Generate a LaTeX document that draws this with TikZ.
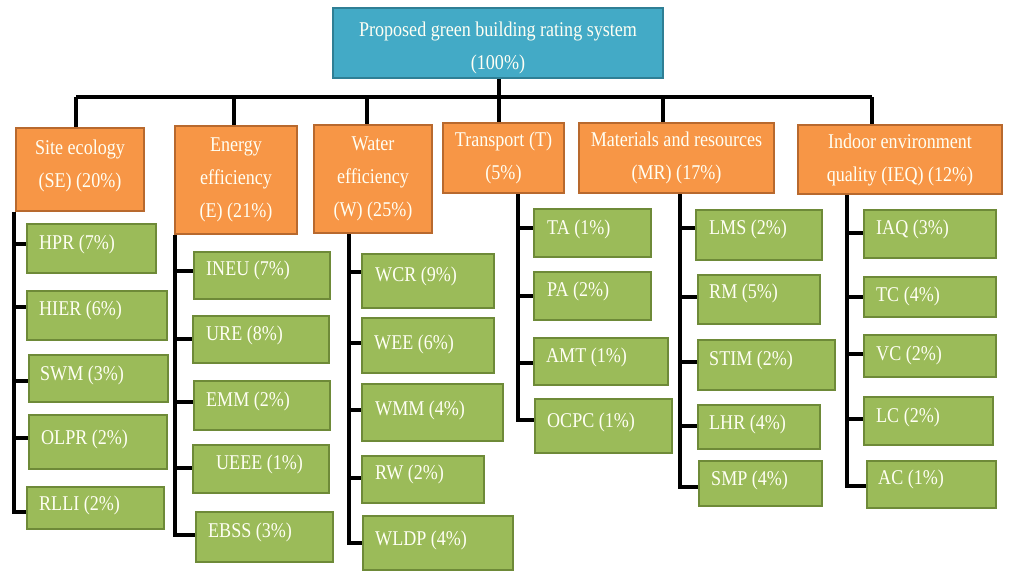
\documentclass[tikz,border=0pt]{standalone}
\usepackage{fontspec}
\setmainfont{Liberation Serif}[FakeStretch=0.86]
\definecolor{rootfill}{HTML}{43AAC6}
\definecolor{rootline}{HTML}{2F7F95}
\definecolor{ofill}{HTML}{F79646}
\definecolor{oline}{HTML}{B8692E}
\definecolor{gfill}{HTML}{9BBB59}
\definecolor{gline}{HTML}{6E8A38}
\definecolor{txt}{HTML}{FFFFF4}
\tikzset{
  rootbox/.style={draw=rootline, fill=rootfill, line width=2pt, inner sep=0pt, align=center, text=txt, font=\fontsize{21}{33}\selectfont},
  obox/.style={draw=oline, fill=ofill, line width=2pt, inner sep=0pt, align=center, text=txt, font=\fontsize{21}{33}\selectfont},
  gbox/.style={draw=gline, fill=gfill, line width=2pt, inner sep=0pt},
  gtext/.style={inner sep=0pt, text=txt, font=\fontsize{21}{24}\selectfont, yshift=-2pt},
  conn/.style={draw=black, line width=3.2pt, line join=miter}
}
\newcommand\leaf[8]{%
  \node[gbox, anchor=north west, minimum width={#4-#2}, minimum height={#5-#3}] (#1) at (#2,#3) {};
  \node[gtext, anchor=west] (#1t) at (#6,#7) {#8};}
\newcommand\branch[3]{\draw[conn] (#1 |- 0,#3) -- (#2.west |- 0,#3);}
\begin{document}
\begin{tikzpicture}[x=1pt,y=-1pt]
\useasboundingbox (0,0) rectangle (1014,570);
% root
\node[rootbox, anchor=north west, minimum width=330, minimum height=70] (root) at (332,7) {\rule{0pt}{25pt}Proposed green building rating system\\(100\%)};
% level 1
\node[obox, anchor=north west, minimum width=128, minimum height=83] (se) at (15,127) {Site ecology\\(SE) (20\%)\rule[-11pt]{0pt}{0pt}};
\node[obox, anchor=north west, minimum width=122, minimum height=108] (e) at (174,125) {Energy\\efficiency\\(E) (21\%)};
\node[obox, anchor=north west, minimum width=118, minimum height=108] (w) at (313,124) {Water\\efficiency\\(W) (25\%)};
\node[obox, anchor=north west, minimum width=121, minimum height=70] (t) at (442,122) {Transport (T)\\(5\%)};
\node[obox, anchor=north west, minimum width=195, minimum height=70] (mr) at (578,122) {Materials and resources\\(MR) (17\%)};
\node[obox, anchor=north west, minimum width=204, minimum height=69] (ieq) at (797,124) {Indoor environment\\quality (IEQ) (12\%)};
% bus
\coordinate (bse) at (76,97);
\coordinate (be) at (234,97);
\coordinate (bw) at (367,97);
\coordinate (bt) at (499,97);
\coordinate (bmr) at (663,97);
\coordinate (bieq) at (872,97);
\draw[conn] (bse) -- (bieq);
\draw[conn] (bt |- root.south) -- (bt |- t.north);
\draw[conn] (bse) -- (bse |- se.north);
\draw[conn] (be) -- (be |- e.north);
\draw[conn] (bw) -- (bw |- w.north);
\draw[conn] (bmr) -- (bmr |- mr.north);
\draw[conn] (bieq) -- (bieq |- ieq.north);
% SE
\leaf{hpr}{26}{223}{155}{272}{39}{242}{HPR (7\%)}
\leaf{hier}{26}{290}{166}{339}{39}{308}{HIER (6\%)}
\leaf{swm}{28}{354}{167}{401}{40}{373}{SWM (3\%)}
\leaf{olpr}{28}{414}{166}{468}{41}{437}{OLPR (2\%)}
\leaf{rlli}{26}{486}{163}{528}{39}{503}{RLLI (2\%)}
\coordinate (sest) at (14,512);
\draw[conn] (sest |- se.south) -- (sest) -- (rlli.west |- sest);
\branch{sest}{hpr}{244}
\branch{sest}{hier}{307}
\branch{sest}{swm}{381}
\branch{sest}{olpr}{438}
% E
\leaf{ineu}{193}{251}{329}{298}{206}{268}{INEU (7\%)}
\leaf{ure}{192}{315}{328}{362}{206}{333}{URE (8\%)}
\leaf{emm}{193}{380}{329}{429}{206}{399}{EMM (2\%)}
\leaf{ueee}{192}{444}{328}{492}{216}{462}{UEEE (1\%)}
\leaf{ebss}{195}{511}{332}{561}{208}{530}{EBSS (3\%)}
\coordinate (est) at (175,535);
\draw[conn] (est |- e.south) -- (est) -- (ebss.west |- est);
\branch{est}{ineu}{271}
\branch{est}{ure}{339}
\branch{est}{emm}{402}
\branch{est}{ueee}{468}
% W
\leaf{wcr}{361}{253}{493}{307}{375}{274}{WCR (9\%)}
\leaf{wee}{361}{317}{493}{372}{374}{342}{WEE (6\%)}
\leaf{wmm}{361}{383}{502}{440}{375}{408}{WMM (4\%)}
\leaf{rw}{361}{455}{483}{502}{375}{472}{RW (2\%)}
\leaf{wldp}{362}{515}{512}{569}{375}{538}{WLDP (4\%)}
\coordinate (wst) at (349,543);
\draw[conn] (wst |- w.south) -- (wst) -- (wldp.west |- wst);
\branch{wst}{wcr}{272}
\branch{wst}{wee}{343}
\branch{wst}{wmm}{410}
\branch{wst}{rw}{478}
% T
\leaf{ta}{533}{208}{650}{256}{547}{227}{TA (1\%)}
\leaf{pa}{533}{271}{650}{319}{547}{289}{PA (2\%)}
\leaf{amt}{533}{337}{667}{384}{546}{355}{AMT (1\%)}
\leaf{ocpc}{534}{398}{671}{452}{547}{420}{OCPC (1\%)}
\coordinate (tst) at (518,420);
\draw[conn] (tst |- t.south) -- (tst) -- (ocpc.west |- tst);
\branch{tst}{ta}{228}
\branch{tst}{pa}{296}
\branch{tst}{amt}{363}
% MR
\leaf{lms}{695}{209}{821}{259}{709}{227}{LMS (2\%)}
\leaf{rm}{697}{274}{819}{323}{709}{291}{RM (5\%)}
\leaf{stim}{697}{339}{834}{389}{709}{358}{STIM (2\%)}
\leaf{lhr}{697}{404}{819}{448}{709}{422}{LHR (4\%)}
\leaf{smp}{698}{460}{821}{505}{711}{478}{SMP (4\%)}
\coordinate (mrst) at (680,487);
\draw[conn] (mrst |- mr.south) -- (mrst) -- (smp.west |- mrst);
\branch{mrst}{lms}{228}
\branch{mrst}{rm}{297}
\branch{mrst}{stim}{362}
\branch{mrst}{lhr}{426}
% IEQ
\leaf{iaq}{863}{209}{995}{257}{876}{227}{IAQ (3\%)}
\leaf{tc}{863}{276}{995}{316}{876}{294}{TC (4\%)}
\leaf{vc}{863}{334}{995}{376}{876}{353}{VC (2\%)}
\leaf{lc}{863}{396}{992}{444}{876}{415}{LC (2\%)}
\leaf{ac}{866}{460}{995}{507}{878}{477}{AC (1\%)}
\coordinate (ieqst) at (847,486);
\draw[conn] (ieqst |- ieq.south) -- (ieqst) -- (ac.west |- ieqst);
\branch{ieqst}{iaq}{233}
\branch{ieqst}{tc}{297}
\branch{ieqst}{vc}{354}
\branch{ieqst}{lc}{419}
\end{tikzpicture}
\end{document}
